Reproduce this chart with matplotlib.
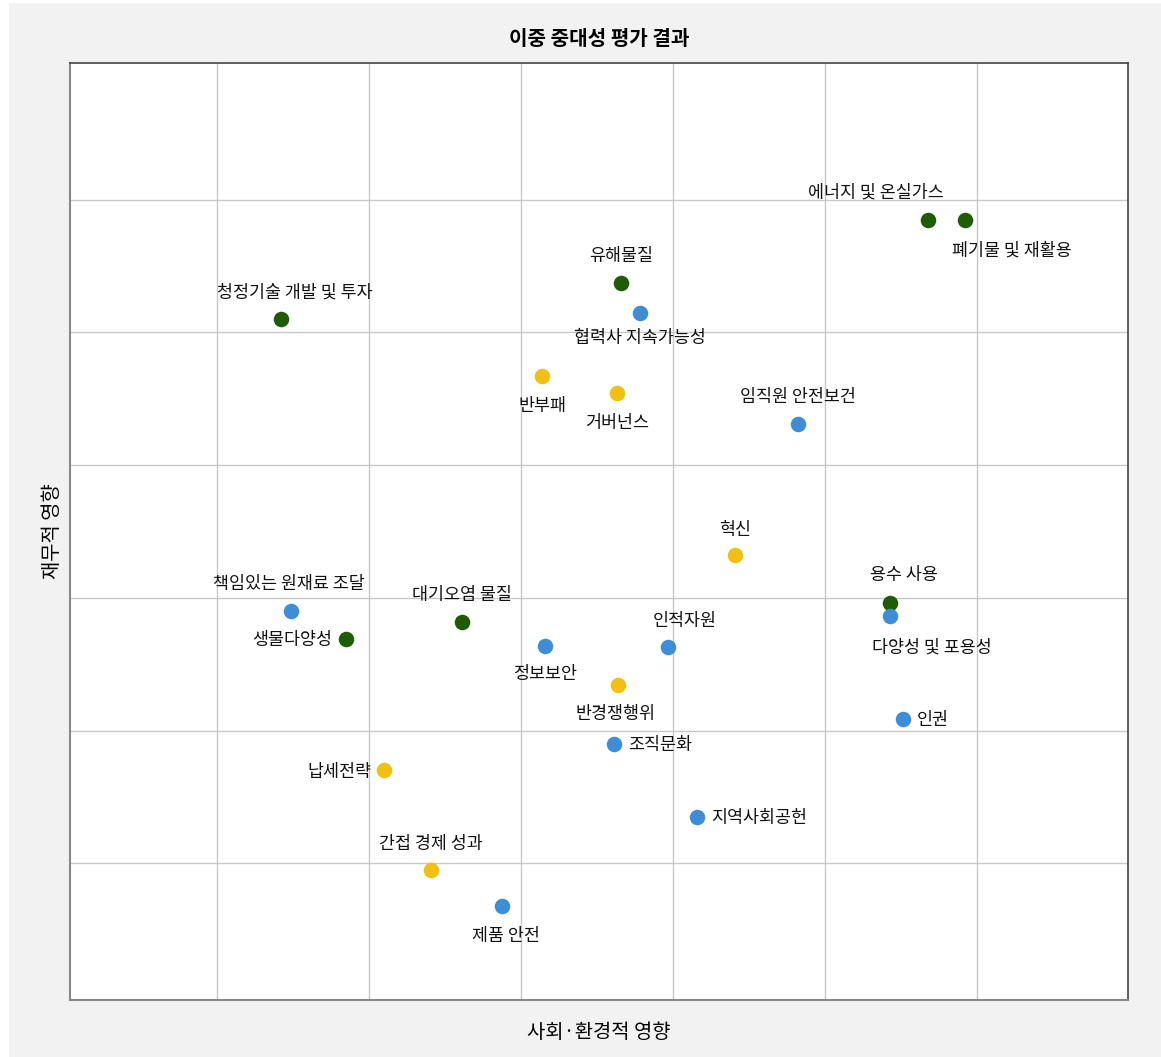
import matplotlib.pyplot as plt
from matplotlib.patches import Rectangle

plt.rcParams['font.family'] = ['Noto Sans CJK KR', 'DejaVu Sans']

# 이슈별 좌표 (사회·환경적 영향, 재무적 영향)
labels = ['에너지 및 온실가스', '폐기물 및 재활용', '유해물질', '협력사 지속가능성',
          '청정기술 개발 및 투자', '반부패', '거버넌스', '임직원 안전보건', '혁신',
          '용수 사용', '다양성 및 포용성', '책임있는 원재료 조달', '생물다양성',
          '대기오염 물질', '정보보안', '인적자원', '반경쟁행위', '인권', '조직문화',
          '납세전략', '지역사회공헌', '간접 경제 성과', '제품 안전']
x_vals = [5.68, 5.92, 3.66, 3.78, 1.42, 3.14, 3.63, 4.82, 4.41, 5.43, 5.43, 1.49, 1.85,
          2.61, 3.16, 3.97, 3.64, 5.51, 3.61, 2.10, 4.16, 2.41, 2.875]
y_vals = [5.85, 5.85, 5.37, 5.15, 5.10, 4.67, 4.54, 4.31, 3.32, 2.96, 2.86, 2.90, 2.69,
          2.82, 2.64, 2.63, 2.34, 2.09, 1.90, 1.70, 1.35, 0.95, 0.68]
groups = ['env', 'env', 'env', 'soc', 'env', 'gov', 'gov', 'soc', 'gov', 'env', 'soc',
          'soc', 'env', 'env', 'soc', 'soc', 'gov', 'soc', 'soc', 'gov', 'soc', 'gov', 'soc']

colors = {'env': '#1e5c06', 'soc': '#3d8ed6', 'gov': '#f2c012'}

# 라벨 위치 (offset in points, ha, va)
label_pos = {
    '에너지 및 온실가스': ((-38, 13), 'center', 'bottom'),
    '폐기물 및 재활용': ((34, -16), 'center', 'top'),
    '유해물질': ((0, 13), 'center', 'bottom'),
    '협력사 지속가능성': ((0, -12), 'center', 'top'),
    '청정기술 개발 및 투자': ((10, 13), 'center', 'bottom'),
    '반부패': ((0, -15), 'center', 'top'),
    '거버넌스': ((0, -15), 'center', 'top'),
    '임직원 안전보건': ((0, 13), 'center', 'bottom'),
    '혁신': ((0, 12), 'center', 'bottom'),
    '용수 사용': ((10, 14), 'center', 'bottom'),
    '다양성 및 포용성': ((30, -16), 'center', 'top'),
    '책임있는 원재료 조달': ((-2, 13), 'center', 'bottom'),
    '생물다양성': ((-10, -1), 'right', 'center'),
    '대기오염 물질': ((0, 13), 'center', 'bottom'),
    '정보보안': ((0, -14), 'center', 'top'),
    '인적자원': ((12, 12), 'center', 'bottom'),
    '반경쟁행위': ((-2, -14), 'center', 'top'),
    '인권': ((10, -1), 'left', 'center'),
    '조직문화': ((10, -1), 'left', 'center'),
    '납세전략': ((-9, -1), 'right', 'center'),
    '지역사회공헌': ((10, -1), 'left', 'center'),
    '간접 경제 성과': ((0, 12), 'center', 'bottom'),
    '제품 안전': ((3, -15), 'center', 'top'),
}

fig = plt.figure(figsize=(11.61, 10.57), dpi=100, facecolor='white')
fig.patches.append(Rectangle((9 / 1161, 0), 1 - 9 / 1161, 1 - 3 / 1057,
                             transform=fig.transFigure, facecolor='#f2f2f2',
                             edgecolor='none', zorder=-10))

ax = fig.add_axes([70 / 1161, 1 - 1000 / 1057, 1058 / 1161, 937 / 1057])
ax.set_facecolor('white')

for i in range(len(labels)):
    ax.scatter(x_vals[i], y_vals[i], s=125, color=colors[groups[i]], zorder=3, linewidths=0)
    off, ha, va = label_pos[labels[i]]
    ax.annotate(labels[i], (x_vals[i], y_vals[i]), xytext=off, textcoords='offset points',
                ha=ha, va=va, fontsize=12.5, fontweight='medium', color='#111111', zorder=4)

ax.set_xlim(0.033, 6.993)
ax.set_ylim(-0.03, 7.03)
ax.set_xticks([1, 2, 3, 4, 5, 6])
ax.set_yticks([1, 2, 3, 4, 5, 6])
ax.tick_params(length=0, labelbottom=False, labelleft=False)
ax.grid(True, color='#c8c8c8', linewidth=1)
ax.set_axisbelow(True)
for side in ['left', 'bottom']:
    ax.spines[side].set_color('#888888')
    ax.spines[side].set_linewidth(1.5)
for side in ['top', 'right']:
    ax.spines[side].set_color('#444444')
    ax.spines[side].set_linewidth(1.2)

ax.set_title('이중 중대성 평가 결과', fontsize=14.5, fontweight='bold', pad=13)
ax.set_xlabel('사회·환경적 영향', fontsize=14.3, fontweight='medium', labelpad=16)
ax.set_ylabel('재무적 영향', fontsize=14.3, fontweight='medium', labelpad=5)

fig.savefig('out.png', dpi=100, facecolor=fig.get_facecolor())
